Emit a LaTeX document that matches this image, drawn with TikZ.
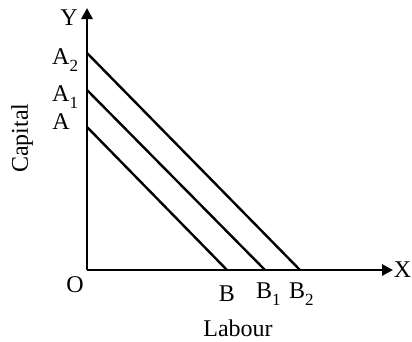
\documentclass[tikz,border=0pt]{standalone}
\usepackage{fontspec}
\setmainfont{Liberation Serif}
\usetikzlibrary{arrows.meta}
\newcommand{\lowsub}[1]{\raisebox{-0.3em}{\fontsize{17}{17}\selectfont #1}}
\begin{document}
\begin{tikzpicture}[x=1pt,y=-1pt,
  axis/.style={line width=2.8pt,-{Triangle[length=11pt,width=11pt]}},
  budget/.style={line width=2.4pt},
  lbl/.style={font=\fontsize{24}{26}\selectfont,inner sep=0pt}]
\useasboundingbox (0,0) rectangle (412,341);
\coordinate (O) at (87,270);
\coordinate (Ytip) at (87,8);
\coordinate (Xtip) at (393,270);
\coordinate (A) at (87,127);
\coordinate (A1) at (87,90);
\coordinate (A2) at (87,53);
\coordinate (B) at (227,270);
\coordinate (B1) at (265,270);
\coordinate (B2) at (300,270);
\draw[axis] (O) -- (Ytip);
\draw[axis] (O) -- (Xtip);
\draw[budget] (A) -- (B);
\draw[budget] (A1) -- (B1);
\draw[budget] (A2) -- (B2);
\node[lbl] (lY) at (69,18) {Y};
\node[lbl,anchor=east] (lX) at (411.5,270) {X};
\node[lbl] (lO) at (75,285) {O};
\node[lbl] (lA) at (61,122) {A};
\node[lbl,anchor=west] (lA1) at (52,97) {A\lowsub{1}};
\node[lbl,anchor=west] (lA2) at (52,60) {A\lowsub{2}};
\node[lbl] (lB) at (227,294) {B};
\node[lbl,anchor=west] (lB1) at (256,294) {B\lowsub{1}};
\node[lbl,anchor=west] (lB2) at (289,294) {B\lowsub{2}};
\node[lbl] (lLab) at (238,328) {Labour};
\node[lbl,rotate=90] (lCap) at (22,138) {Capital};
\end{tikzpicture}
\end{document}
